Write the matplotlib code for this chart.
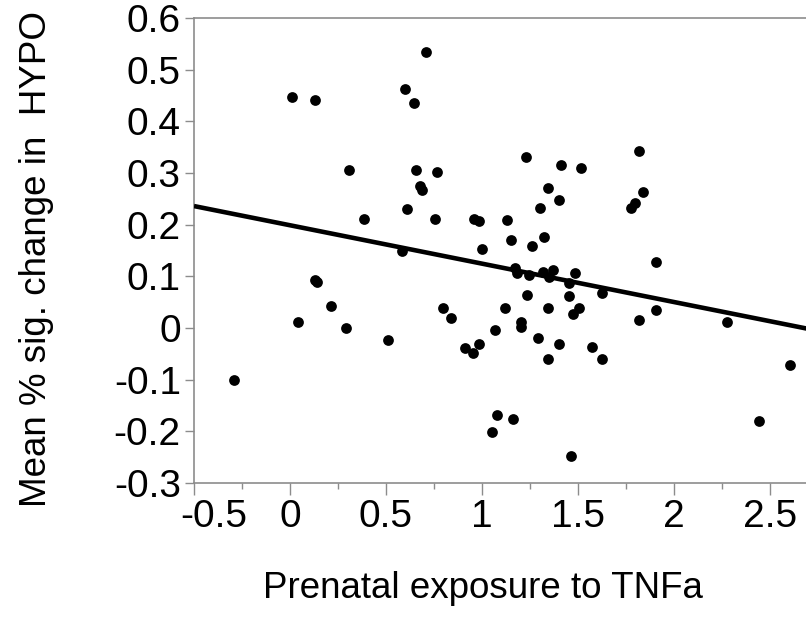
import numpy as np
import matplotlib
matplotlib.use('Agg')
import matplotlib.pyplot as plt
import matplotlib.transforms as mtransforms

plt.rcParams['font.family'] = ['Liberation Sans', 'DejaVu Sans']

# data
tnf_x = [0.707, 0.012, 0.132, 0.597, 0.648, 0.306, 0.656, 0.766, 0.677, 0.689,
         0.608, 0.385, 0.757, 0.958, 0.983, 1.000,
         1.231, 1.816, 1.413, 1.514, 1.344, 1.403, 1.836, 1.797, 1.776, 1.302,
         1.132, 1.149, 1.260, 1.325,
         0.583, 0.130, 0.142, 0.215, 0.043, 0.293, 0.509, 0.799, 0.840, 0.911,
         0.951, 0.983, 1.069, -0.290, 1.076, 1.050,
         1.906, 1.172, 1.181, 1.243, 1.319, 1.372, 1.351, 1.484, 1.455, 1.625,
         1.233, 1.453, 1.120, 1.344, 1.505, 1.472, 1.906, 1.818, 2.278, 1.201,
         1.201, 1.293, 1.403, 1.344, 1.575, 1.627, 2.602, 1.160, 2.441, 1.464]
hypo_y = [0.534, 0.448, 0.441, 0.462, 0.436, 0.305, 0.305, 0.301, 0.275, 0.267,
          0.230, 0.211, 0.211, 0.211, 0.207, 0.153,
          0.331, 0.342, 0.316, 0.309, 0.271, 0.248, 0.263, 0.241, 0.233, 0.233,
          0.209, 0.170, 0.158, 0.176,
          0.150, 0.092, 0.090, 0.042, 0.012, 0.000, -0.023, 0.038, 0.019, -0.038,
          -0.049, -0.030, -0.003, -0.101, -0.169, -0.202,
          0.128, 0.117, 0.106, 0.102, 0.109, 0.113, 0.099, 0.106, 0.088, 0.068,
          0.064, 0.061, 0.038, 0.038, 0.038, 0.027, 0.034, 0.016, 0.012, 0.012,
          0.001, -0.019, -0.031, -0.060, -0.037, -0.060, -0.071, -0.176, -0.180, -0.248]

# fitted line end points
fit_x = [-0.5, 2.69]
fit_y = [0.236, -0.001]

x_ticks = [-0.5, 0, 0.5, 1, 1.5, 2, 2.5]
x_tick_labels = ['-0.5', '0', '0.5', '1', '1.5', '2', '2.5']
x_minor = [-0.25, 0.25, 0.75, 1.25, 1.75, 2.25]
y_ticks = [0.6, 0.5, 0.4, 0.3, 0.2, 0.1, 0, -0.1, -0.2, -0.3]
y_tick_labels = ['0.6', '0.5', '0.4', '0.3', '0.2', '0.1', '0', '-0.1', '-0.2', '-0.3']

fig = plt.figure(figsize=(8.06, 6.2), dpi=100)
ax = fig.add_axes([194 / 806, 137 / 620, 612 / 806, 465 / 620])

ax.scatter(tnf_x, hypo_y, s=60, color='black', zorder=2, linewidths=0)
ax.plot(fit_x, fit_y, color='black', linewidth=3.3, zorder=3,
        solid_capstyle='butt')

ax.set_xlim(-0.5, 2.6875)
ax.set_ylim(-0.3, 0.6)

ax.set_xticks(x_ticks)
ax.set_xticklabels(x_tick_labels, fontsize=28)
ax.set_xticks(x_minor, minor=True)
ax.set_yticks(y_ticks)
ax.set_yticklabels(y_tick_labels, fontsize=28)

ax.tick_params(axis='x', which='major', length=8.5, width=1, color='#8c8c8c', pad=3)
ax.tick_params(axis='x', which='minor', length=4.5, width=1, color='#8c8c8c')
ax.tick_params(axis='y', which='major', length=6.5, width=1, color='#8c8c8c', pad=3)

for side in ['left', 'bottom', 'top']:
    ax.spines[side].set_color('#8c8c8c')
    ax.spines[side].set_linewidth(1.2)
ax.spines['right'].set_visible(False)

# the first x label sits a bit right of its tick in the original
offset = mtransforms.ScaledTranslation(20 / 100, 0, fig.dpi_scale_trans)
first = ax.get_xticklabels()[0]
first.set_transform(first.get_transform() + offset)

ax.set_xlabel('Prenatal exposure to TNFa', fontsize=26.5)
ax.xaxis.set_label_coords((483 - 194) / 612, -0.19)
ax.set_ylabel('Mean % sig. change in  HYPO', fontsize=26.5)
ax.yaxis.set_label_coords(-0.228, 0.482)

fig.savefig('out.png', dpi=100)
